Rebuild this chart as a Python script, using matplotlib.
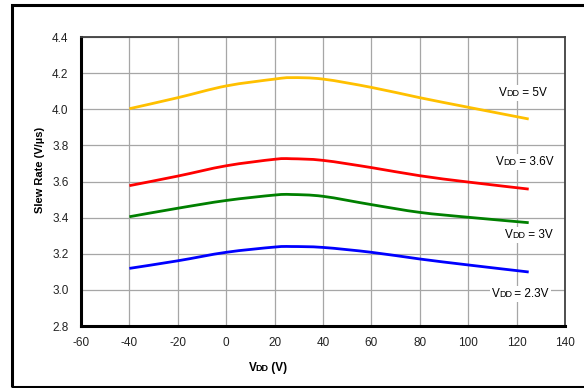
import numpy as np
import matplotlib
matplotlib.use("Agg")
import matplotlib.pyplot as plt
from matplotlib.path import Path
from matplotlib.patches import PathPatch, Rectangle
from matplotlib.offsetbox import TextArea, HPacker, AnnotationBbox

plt.rcParams["font.family"] = ["Liberation Sans", "DejaVu Sans"]
plt.rcParams["axes.unicode_minus"] = False

# temperature points
temp = [-40, -20, 0, 20, 27, 40, 60, 80, 100, 125]
sr_5v = [4.003, 4.064, 4.129, 4.167, 4.175, 4.167, 4.121, 4.064, 4.011, 3.946]
sr_36v = [3.577, 3.630, 3.687, 3.723, 3.726, 3.717, 3.677, 3.632, 3.597, 3.558]
sr_3v = [3.405, 3.452, 3.495, 3.525, 3.528, 3.518, 3.472, 3.429, 3.402, 3.372]
sr_23v = [3.119, 3.161, 3.208, 3.237, 3.240, 3.235, 3.208, 3.171, 3.138, 3.099]

series = [
    (sr_5v, "#FFC000", "5V", (122.5, 4.09)),
    (sr_36v, "#FF0000", "3.6V", (123.5, 3.708)),
    (sr_3v, "#008000", "3V", (125, 3.304)),
    (sr_23v, "#0000FF", "2.3V", (121.5, 2.977)),
]


def smooth_path(x, y, t=1 / 6):
    # Catmull-Rom style bezier, like a spreadsheet "smoothed line"
    x = np.asarray(x, float)
    y = np.asarray(y, float)
    verts = [(x[0], y[0])]
    codes = [Path.MOVETO]
    n = len(x)
    for i in range(n - 1):
        p0 = (x[max(i - 1, 0)], y[max(i - 1, 0)])
        p1 = (x[i], y[i])
        p2 = (x[i + 1], y[i + 1])
        p3 = (x[min(i + 2, n - 1)], y[min(i + 2, n - 1)])
        c1 = (p1[0] + (p2[0] - p0[0]) * t, p1[1] + (p2[1] - p0[1]) * t)
        c2 = (p2[0] - (p3[0] - p1[0]) * t, p2[1] - (p3[1] - p1[1]) * t)
        verts += [c1, c2, p2]
        codes += [Path.CURVE4] * 3
    return Path(verts, codes)


def vdd_label(rest, bold=False):
    w = "bold" if bold else "normal"
    return HPacker(children=[
        TextArea("V", textprops=dict(size=8.5, weight=w)),
        TextArea("DD", textprops=dict(size=6.5, weight=w)),
        TextArea(rest, textprops=dict(size=8.5, weight=w)),
    ], align="baseline", pad=0, sep=-0.4)


fig = plt.figure(figsize=(5.84, 3.88), dpi=100)
fig.patch.set_facecolor("white")

# outer frame (right edge runs off the picture)
fig.patches.append(Rectangle((12 / 584, 1.5 / 388), 1.0, 381.5 / 388,
                             transform=fig.transFigure, fill=False,
                             ec="black", lw=2.2))

ax = fig.add_axes([81 / 584, 1 - 326 / 388, 484 / 584, 289 / 388])
ax.set_xlim(-60, 140)
ax.set_ylim(2.8, 4.4)
ax.set_xticks(np.arange(-60, 141, 20))
ax.set_yticks(np.arange(2.8, 4.41, 0.2))
ax.set_yticklabels([f"{v:.1f}" for v in np.arange(2.8, 4.41, 0.2)])
ax.tick_params(length=0, labelsize=8.5, colors="#222222")
ax.tick_params(axis="x", pad=8)
ax.tick_params(axis="y", pad=9)
ax.grid(True, color="#a6a6a6", lw=0.9)
ax.set_axisbelow(True)
for side in ["left", "bottom"]:
    ax.spines[side].set_linewidth(2.2)
    ax.spines[side].set_color("black")
for side in ["top", "right"]:
    ax.spines[side].set_linewidth(1.3)
    ax.spines[side].set_color("#404040")

for vals, color, name, (lx, ly) in series:
    ax.add_patch(PathPatch(smooth_path(temp, vals), fill=False, ec=color,
                           lw=2.0, capstyle="butt", zorder=3))
    ab = AnnotationBbox(vdd_label(f" = {name}"), (lx, ly), xycoords="data",
                        frameon=True, pad=0.15,
                        bboxprops=dict(fc="white", ec="none"), zorder=4)
    ax.add_artist(ab)

ax.set_ylabel("Slew Rate (V/\u00b5s)", fontsize=8, fontweight="bold")
ax.yaxis.set_label_coords(-36 / 484, 1 - (170 - 37) / 289)

ax.add_artist(AnnotationBbox(vdd_label(" (V)", bold=True),
                             ((268 - 81) / 484, -(368 - 326) / 289),
                             xycoords="axes fraction", frameon=False,
                             annotation_clip=False))

fig.savefig("out.png", dpi=100)
